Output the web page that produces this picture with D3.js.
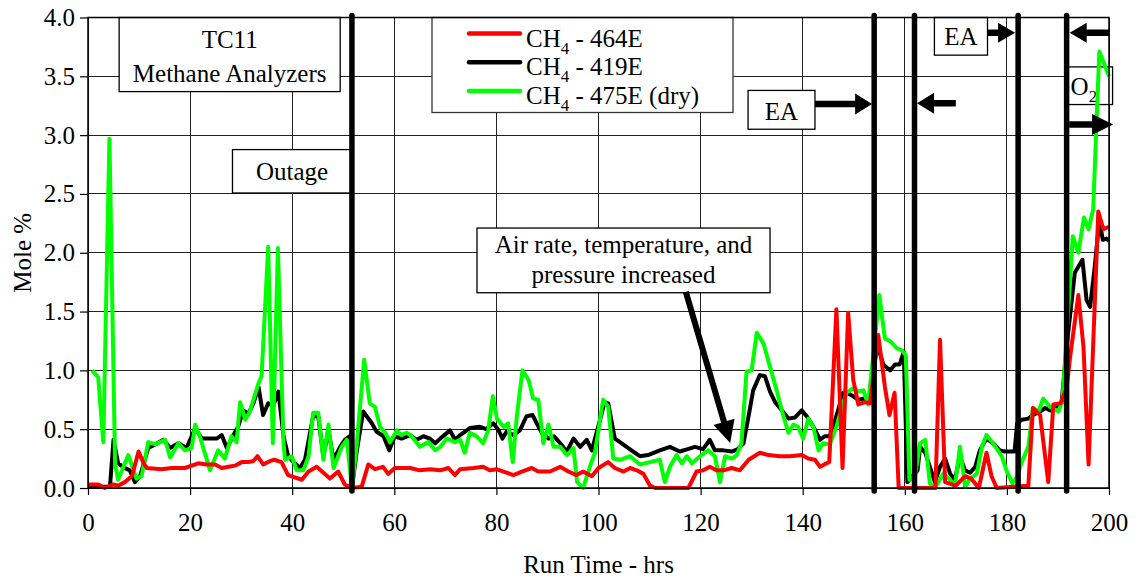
<!DOCTYPE html>
<html>
<head>
<meta charset="utf-8">
<script src="https://cdn.jsdelivr.net/npm/d3@7"></script>
<style>
  body { margin: 0; background: #fff; }
  svg { display: block; font-family: "Liberation Serif", "Times New Roman", serif; }
</style>
</head>
<body>
<svg id="chart" width="1138" height="580"></svg>
<script>
// axis ticks
const xTicks = [0, 20, 40, 60, 80, 100, 120, 140, 160, 180, 200]
const yTicks = [0, 0.5, 1, 1.5, 2, 2.5, 3, 3.5, 4]

// [run time hrs, mole %]
const ch4_464E = [[0,0.03],[2,0.03],[3.3,0.0],[5,0.03],[5.9,0.02],[7.2,0.05],[8.6,0.1],[9.9,0.31],[10.8,0.22],[11.5,0.17],[14.4,0.16],[16.4,0.17],[19,0.17],[20.3,0.19],[21.6,0.21],[23.2,0.2],[24.9,0.2],[26.2,0.17],[27.5,0.18],[28.8,0.19],[30.1,0.22],[31.4,0.22],[32.4,0.23],[33.2,0.27],[34.3,0.2],[35.7,0.23],[36.5,0.24],[37.9,0.22],[39.2,0.11],[41.9,0.07],[43.2,0.14],[44.8,0.18],[47.4,0.08],[49.0,0.14],[50.3,0.03],[51.7,0.0],[53.6,0.01],[54.9,0.2],[56.2,0.16],[57.8,0.18],[58.8,0.12],[60.1,0.17],[63.1,0.17],[65.0,0.15],[67.0,0.16],[69.0,0.15],[70.6,0.17],[71.9,0.11],[72.9,0.16],[75.5,0.17],[77.4,0.18],[78.7,0.15],[80,0.16],[81.4,0.14],[83.3,0.11],[85.0,0.14],[86.9,0.17],[88.2,0.14],[90.5,0.14],[92.5,0.18],[94.1,0.14],[95.7,0.11],[97.0,0.14],[98.7,0.1],[100.0,0.17],[101.9,0.22],[103.2,0.17],[104.9,0.14],[106.2,0.17],[107.5,0.15],[108.8,0.12],[110.1,0.02],[111.1,0.0],[117.6,0.0],[119.2,0.14],[120.5,0.15],[121.8,0.18],[123.1,0.15],[124.5,0.15],[126.1,0.17],[127.7,0.15],[129.4,0.24],[131.6,0.3],[133.3,0.28],[135.5,0.27],[137.5,0.27],[139.8,0.28],[141.1,0.25],[142.4,0.24],[143.4,0.18],[144.7,0.21],[145.2,0.22],[146.6,1.52],[147.8,0.17],[148.9,1.49],[149.9,0.92],[150.9,0.71],[152.2,0.73],[153.2,0.72],[154.8,1.3],[156.1,0.86],[157.0,0.62],[158.0,0.81],[158.8,0.0],[166.0,0.0],[166.9,1.26],[167.9,0.05],[170,0.02],[171.8,0.1],[173,0.08],[174.5,0.0],[176,0.3],[177,0.1],[178,0.0],[184.2,0.02],[185.1,0.68],[186.5,0.62],[188.1,0.05],[189.1,0.71],[190.5,0.72],[191.7,0.85],[192.4,1.12],[194.0,1.64],[195.0,1.2],[196.0,0.2],[197.9,2.35],[198.9,2.2],[200,2.22]]

const ch4_419E = [[0,0.01],[4.3,0.01],[5.0,0.41],[5.9,0.21],[7.2,0.17],[8.2,0.15],[9.2,0.05],[10.2,0.1],[11.8,0.34],[13.1,0.37],[14.8,0.41],[16.1,0.34],[17.7,0.38],[19.3,0.34],[21.0,0.51],[22.3,0.42],[23.9,0.42],[25.2,0.42],[26.2,0.45],[27.2,0.34],[28.5,0.45],[29.4,0.52],[30.4,0.66],[31.4,0.63],[32.4,0.72],[33.4,0.86],[34.3,0.62],[35.3,0.72],[36.3,0.7],[37.3,0.82],[38.3,0.44],[39.2,0.27],[40.5,0.21],[41.5,0.17],[42.5,0.24],[44.1,0.61],[45.1,0.61],[46.1,0.27],[47.1,0.49],[48.1,0.24],[49.4,0.35],[50.3,0.41],[51.3,0.44],[51.7,0.0],[52.6,0.3],[53.9,0.65],[55.6,0.55],[56.5,0.48],[57.9,0.44],[59.0,0.32],[60.1,0.44],[61.4,0.42],[63.1,0.45],[64.4,0.41],[65.7,0.44],[67.0,0.42],[68.0,0.38],[69.0,0.42],[70.9,0.49],[71.9,0.41],[72.9,0.45],[74.8,0.51],[76.8,0.52],[78.0,0.5],[79.4,0.55],[80.3,0.5],[81.2,0.42],[82.0,0.48],[83.3,0.45],[84.6,0.49],[85.9,0.61],[87.1,0.62],[87.9,0.55],[88.9,0.47],[90.2,0.42],[91.3,0.44],[92.5,0.38],[93.8,0.31],[95.1,0.42],[96.4,0.35],[97.7,0.41],[98.7,0.32],[100.3,0.58],[101.2,0.73],[101.9,0.72],[103.2,0.42],[104.2,0.39],[105.5,0.35],[106.8,0.31],[108.1,0.27],[109.7,0.28],[112.0,0.32],[114.0,0.35],[115.9,0.31],[117.5,0.33],[118.9,0.35],[120.5,0.33],[121.8,0.41],[122.8,0.32],[124.5,0.32],[126.1,0.31],[127.3,0.33],[128.4,0.38],[129.4,0.61],[130.3,0.83],[131.6,0.96],[132.6,0.95],[133.6,0.82],[134.6,0.73],[135.9,0.66],[137.2,0.59],[138.5,0.6],[139.8,0.66],[140.8,0.61],[142.1,0.52],[143.4,0.41],[144.3,0.44],[145.3,0.44],[146.6,0.61],[147.9,0.81],[148.6,0.81],[149.9,0.78],[150.9,0.75],[151.9,0.76],[152.8,0.75],[153.5,0.8],[154.5,1.23],[155.8,1.05],[157.1,1.0],[158.1,1.05],[159.0,1.05],[159.8,1.16],[160.5,0.05],[162.5,0.15],[163.0,0.35],[164.0,0.3],[165.9,0.05],[166.9,0.18],[167.9,0.25],[168.9,0.12],[169.8,0.07],[170.8,0.27],[171.8,0.15],[172.8,0.13],[173.8,0.18],[174.7,0.32],[176.0,0.42],[177.3,0.38],[178.6,0.32],[179.6,0.31],[180.9,0.31],[181.5,0.31],[182.0,0.55],[182.9,0.58],[184.2,0.59],[185.1,0.62],[186.5,0.65],[187.5,0.68],[188.5,0.66],[189.7,0.69],[190.7,0.72],[191.7,1.2],[193.3,1.83],[194.8,1.94],[195.6,1.6],[196.3,1.54],[197.2,1.88],[198.1,2.27],[198.8,2.11],[199.5,2.12],[200,2.1]]

const ch4_475E = [[0.8,1.0],[2.0,0.94],[3.0,0.39],[4.2,2.97],[5.3,0.21],[5.9,0.07],[7.9,0.28],[9.5,0.08],[10.5,0.1],[11.8,0.39],[13.1,0.37],[14.1,0.39],[15.1,0.41],[16.1,0.26],[17.7,0.38],[19.0,0.32],[20.3,0.34],[21.0,0.54],[21.9,0.44],[23.9,0.15],[25.5,0.32],[26.8,0.25],[28.1,0.44],[29.1,0.39],[29.8,0.73],[30.8,0.58],[31.7,0.65],[32.4,0.75],[33.4,0.89],[34.0,0.95],[35.3,2.05],[36.2,0.38],[37.2,2.04],[38.3,0.38],[38.6,0.24],[39.9,0.27],[40.9,0.15],[42.2,0.15],[43.2,0.27],[44.1,0.64],[45.1,0.64],[46.1,0.24],[47.1,0.54],[48.1,0.17],[49.7,0.35],[50.7,0.41],[51.7,0.0],[52.6,0.35],[54.1,1.09],[55.2,0.72],[56.2,0.69],[57.2,0.52],[58.2,0.47],[59.2,0.39],[60.5,0.49],[61.4,0.45],[62.4,0.47],[63.4,0.44],[65.0,0.35],[66.7,0.39],[68.0,0.32],[69.0,0.35],[70.3,0.42],[71.9,0.39],[72.9,0.41],[73.8,0.3],[74.8,0.47],[76.1,0.44],[77.4,0.38],[78.4,0.49],[79.3,0.78],[80.1,0.59],[81.4,0.52],[82.3,0.55],[83.2,0.22],[84.0,0.61],[85.1,1.0],[86.3,0.92],[87.2,0.76],[88.2,0.75],[89.2,0.38],[90.2,0.54],[91.2,0.35],[92.5,0.35],[93.8,0.28],[95.1,0.34],[95.8,0.05],[97.0,0.0],[98.3,0.18],[99.3,0.3],[100.9,0.75],[101.9,0.69],[102.9,0.25],[104.2,0.24],[106.2,0.27],[108.1,0.2],[110.1,0.22],[112.0,0.24],[113.0,0.05],[114.0,0.18],[115.3,0.28],[116.3,0.21],[117.3,0.27],[118.3,0.21],[119.9,0.27],[121.5,0.32],[122.8,0.27],[123.8,0.05],[124.8,0.27],[126.1,0.25],[127.1,0.28],[128.0,0.38],[129.0,0.99],[130.0,1.0],[131.0,1.32],[132.3,1.23],[133.6,1.03],[134.9,0.83],[135.9,0.66],[137.2,0.47],[138.2,0.54],[139.1,0.52],[140.1,0.42],[141.1,0.59],[142.1,0.52],[143.1,0.32],[144.0,0.38],[145.3,0.37],[146.6,0.52],[147.9,0.72],[148.6,0.81],[149.9,0.85],[150.9,0.82],[151.9,0.83],[152.8,0.71],[154.0,1.2],[155.0,1.64],[156.1,1.27],[157.1,1.25],[158.4,1.19],[159.4,1.17],[160.2,1.13],[160.9,0.07],[162.0,0.1],[163.0,0.38],[164.0,0.41],[164.9,0.04],[165.9,0.0],[167.5,0.12],[168.9,0.07],[169.8,0.01],[170.8,0.35],[171.8,0.01],[172.8,0.08],[174.1,0.12],[175.1,0.35],[176.0,0.45],[177.3,0.38],[179.0,0.27],[180.0,0.14],[181.1,0.04],[182.0,0.1],[182.9,0.22],[184.2,0.35],[185.1,0.68],[186.2,0.65],[187.1,0.76],[188.4,0.69],[190.1,0.65],[190.9,0.75],[191.7,1.3],[192.9,2.14],[194.0,2.0],[195.1,2.3],[196.0,2.2],[196.9,2.37],[198.1,3.71],[199.2,3.59],[200,3.5]]

// run events (thick vertical markers), hrs
const eventHrs = [51.7, 154.0, 161.9, 182.2, 191.7]

const seriesNames = ["464E", "419E", "475E (dry)"]
const seriesColors = ["#ff0000", "#000000", "#00ff00"]

// text boxes, in data units: [hr0, hr1, top, bottom]
const boxes = [
  { r: [6.1, 49.4, 4.0, 3.37], lines: [["TC11", 3.74], ["Methane Analyzers", 3.45]] },
  { r: [28.3, 51.65, 2.877, 2.508], lines: [["Outage", 2.62]] },
  { r: [76.2, 133.6, 2.21, 1.66], lines: [["Air rate, temperature, and", 2.0], ["pressure increased", 1.74]] },
  { r: [129.3, 142.4, 3.38, 3.05], lines: [["EA", 3.13]] },
  { r: [165.8, 176.2, 4.0, 3.68], lines: [["EA", 3.77]] },
  { r: [191.8, 200.7, 3.58, 3.26], lines: [["O|2", 3.34]] }
]
// arrows: from -> to, in data units
const arrows = [
  { from: [142.4, 3.265], to: [153.6, 3.265], head: 17, half: 10.5, w: 6.5 },
  { from: [170.0, 3.27], to: [162.4, 3.27], head: 17, half: 10.5, w: 6.5 },
  { from: [176.2, 3.87], to: [181.6, 3.87], head: 17, half: 10, w: 6.5 },
  { from: [200, 3.87], to: [192.3, 3.87], head: 17, half: 10, w: 6.5 },
  { from: [192.2, 3.09], to: [200.8, 3.09], head: 21, half: 10.5, w: 6.5 },
  { from: [117.1, 1.668], to: [125.8, 0.383], head: 22, half: 11, w: 6 }
]

const svg = d3.select("#chart")
const x = d3.scaleLinear().domain([0, 200]).range([88, 1109])
const y = d3.scaleLinear().domain([0, 4]).range([488, 17.5])

// grid
const grid = svg.append("g").attr("stroke", "#222").attr("stroke-width", 1).attr("shape-rendering", "crispEdges")
grid.selectAll(".gx").data(xTicks).join("line")
  .attr("x1", d => x(d)).attr("x2", d => x(d)).attr("y1", y(0)).attr("y2", y(4))
grid.selectAll(".gy").data(yTicks).join("line")
  .attr("y1", d => y(d)).attr("y2", d => y(d)).attr("x1", x(0)).attr("x2", x(200))

// axes
const yAxis = svg.append("g").attr("transform", `translate(${x(0)},0)`)
  .call(d3.axisLeft(y).tickValues(yTicks).tickFormat(d3.format(".1f")).tickSize(8).tickPadding(5))
const xAxis = svg.append("g").attr("transform", `translate(0,${y(0)})`)
  .call(d3.axisBottom(x).tickValues(xTicks).tickSize(7).tickPadding(18))
svg.selectAll(".domain").remove()
svg.selectAll(".tick line").attr("stroke", "#000").attr("stroke-width", 1.2)
svg.selectAll(".tick text").attr("font-family", "Liberation Serif").attr("font-size", 25).attr("fill", "#000")

svg.append("text").attr("x", x(100)).attr("y", 573).attr("text-anchor", "middle")
  .attr("font-size", 25).text("Run Time - hrs")
svg.append("text").attr("transform", `translate(31,${y(2)}) rotate(-90)`).attr("text-anchor", "middle")
  .attr("font-size", 25).text("Mole %")

// boxes with text (under the data lines)
const subText = (sel, str) => {
  const [main, sub] = str.split("|")
  sel.append("tspan").text(main)
  if (sub) sel.append("tspan").attr("font-size", 17).attr("dy", 7).text(sub)
}
boxes.forEach(b => {
  const [h0, h1, top, bot] = b.r
  svg.append("rect").attr("x", x(h0)).attr("y", y(top)).attr("width", x(h1) - x(h0)).attr("height", y(bot) - y(top))
    .attr("fill", "#fff").attr("stroke", "#000").attr("stroke-width", 1.3)
  b.lines.forEach(([t, v]) => {
    const cx = (x(h0) + x(h1)) / 2 - (t.includes("|") ? 6 : 0)
    const txt = svg.append("text").attr("x", cx).attr("y", y(v)).attr("text-anchor", "middle").attr("font-size", 25)
    subText(txt, t)
  })
})

// legend
const legendBox = { x0: 432, y0: 17.5, w: 301, h: 95 }
const lg = svg.append("g")
lg.append("rect").attr("x", legendBox.x0).attr("y", legendBox.y0).attr("width", legendBox.w).attr("height", legendBox.h)
  .attr("fill", "#fff").attr("stroke", "#333").attr("stroke-width", 1.3)
seriesNames.forEach((n, i) => {
  const yy = 33.5 + i * 28.7
  lg.append("line").attr("x1", 469).attr("x2", 520).attr("y1", yy).attr("y2", yy)
    .attr("stroke", seriesColors[i]).attr("stroke-width", 4.5).attr("stroke-linecap", "round")
  const t = lg.append("text").attr("x", 526).attr("y", yy + 13).attr("font-size", 25)
  t.append("tspan").text("CH")
  t.append("tspan").attr("font-size", 17).attr("dy", 7).text("4")
  t.append("tspan").attr("dy", -7).text(" - " + n)
})

// data lines
const line = d3.line().x(d => x(d[0])).y(d => y(d[1]))
const series = [ch4_419E, ch4_475E, ch4_464E]
const order = [1, 2, 0]
svg.append("g").selectAll("path").data(series).join("path")
  .attr("d", line)
  .attr("fill", "none")
  .attr("stroke", (d, i) => seriesColors[order[i]])
  .attr("stroke-width", 4)
  .attr("stroke-linejoin", "round")

// event markers
svg.append("g").selectAll("line").data(eventHrs).join("line")
  .attr("x1", d => x(d)).attr("x2", d => x(d)).attr("y1", y(4) - 2).attr("y2", y(0) + 3)
  .attr("stroke", "#000").attr("stroke-width", 5.5).attr("stroke-linecap", "round")

// arrows
arrows.forEach(a => {
  const p0 = [x(a.from[0]), y(a.from[1])], p1 = [x(a.to[0]), y(a.to[1])]
  const dx = p1[0] - p0[0], dy = p1[1] - p0[1], len = Math.hypot(dx, dy)
  const ux = dx / len, uy = dy / len, nx = -uy, ny = ux
  const bx = p1[0] - ux * a.head, by = p1[1] - uy * a.head
  const hw = a.w / 2
  const pts = [
    [p0[0] + nx * hw, p0[1] + ny * hw], [bx + nx * hw, by + ny * hw], [bx + nx * a.half, by + ny * a.half],
    p1,
    [bx - nx * a.half, by - ny * a.half], [bx - nx * hw, by - ny * hw], [p0[0] - nx * hw, p0[1] - ny * hw]
  ]
  svg.append("polygon").attr("points", pts.map(p => p.join(",")).join(" ")).attr("fill", "#000")
})

// frame
svg.append("rect").attr("x", x(0)).attr("y", y(4)).attr("width", x(200) - x(0)).attr("height", y(0) - y(4))
  .attr("fill", "none").attr("stroke", "#000").attr("stroke-width", 1.5)
</script>
</body>
</html>
